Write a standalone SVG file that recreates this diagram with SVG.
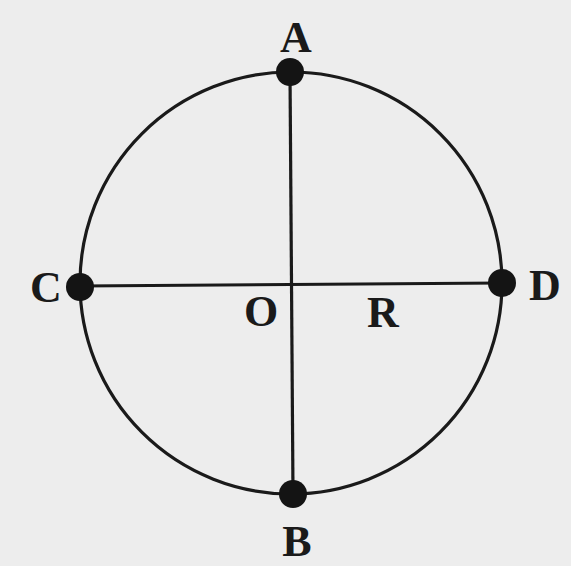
<svg xmlns="http://www.w3.org/2000/svg" width="571" height="566" viewBox="0 0 571 566">
<style>
.ln{stroke:#1a1a1a;stroke-width:3.2;fill:none}
.dot{fill:#141414}
.lb{font-family:"Liberation Serif","Times New Roman",serif;font-weight:bold;font-size:44px;fill:#1a1a1a;text-anchor:middle}
</style>
<rect width="571" height="566" fill="#ededed"/>
<g id="circle"><circle class="ln" cx="291" cy="283" r="211"/></g>
<g id="connectors">
<line class="ln" x1="290" y1="72" x2="293" y2="494"/>
<line class="ln" x1="80" y1="286" x2="502" y2="283"/>
</g>
<g id="A"><circle class="dot" cx="290" cy="72" r="14"/><text class="lb" x="296" y="52">A</text></g>
<g id="B"><circle class="dot" cx="293" cy="494" r="14"/><text class="lb" x="297" y="556">B</text></g>
<g id="C"><circle class="dot" cx="80" cy="287" r="14"/><text class="lb" x="46" y="302">C</text></g>
<g id="D"><circle class="dot" cx="502" cy="283" r="14"/><text class="lb" x="545" y="300">D</text></g>
<g id="O"><text class="lb" x="261" y="326">O</text></g>
<g id="R"><text class="lb" x="383" y="327">R</text></g>
</svg>
